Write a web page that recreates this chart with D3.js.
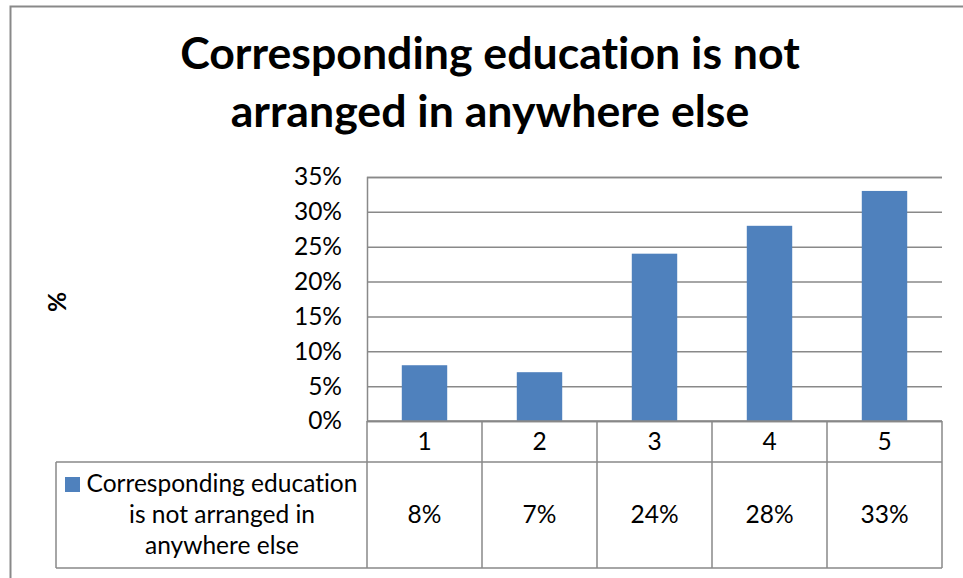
<!DOCTYPE html>
<html>
<head>
<meta charset="utf-8">
<script src="https://cdn.jsdelivr.net/npm/d3@7/dist/d3.min.js"></script>
<style>
  html, body { margin: 0; padding: 0; background: #fff; }
  svg { display: block; }
  svg text { font-variant-ligatures: none; font-feature-settings: "liga" 0; }
</style>
</head>
<body>
<svg id="chart" width="963" height="578"></svg>
<script>
// Chart data
const titleLines = ["Corresponding education is not", "arranged in anywhere else"];
const categories = ["1", "2", "3", "4", "5"];
const values = [0.08, 0.07, 0.24, 0.28, 0.33];
const seriesLabelLines = ["Corresponding education", "is not arranged in", "anywhere else"];
const yTicks = [0, 0.05, 0.10, 0.15, 0.20, 0.25, 0.30, 0.35];
const yAxisLabel = "%";

const W = 963, H = 578;
const FONT = "Lato, 'Open Sans', 'Liberation Sans', sans-serif";
const barColor = "#4F81BD";
const lineColor = "#898989";

const svg = d3.select("#chart");

// Plot area and data table geometry
const plot = { left: 367, right: 942, top: 177, bottom: 421 };
const tableRow1Bottom = 462;
const tableBottom = 568;
const tableLeft = 56;

const x = d3.scaleBand().domain(categories).range([plot.left, plot.right]).paddingInner(0.605).paddingOuter(0.3025);
const xCell = d3.scaleBand().domain(categories).range([plot.left, plot.right]);
const y = d3.scaleLinear().domain([0, 0.35]).range([plot.bottom, plot.top]);
const pct = d3.format(".0%");

// Outer chart border (top and left visible)
svg.append("path")
  .attr("d", `M10.5,${H} L10.5,6.5 L${W},6.5`)
  .attr("fill", "none").attr("stroke", lineColor).attr("stroke-width", 2);

// Fit a text's font size so that it spans a given width
function fitSize(text, weight, target) {
  const t = svg.append("text").attr("font-family", FONT).attr("font-weight", weight)
    .attr("font-size", 100).text(text);
  const w = t.node().getComputedTextLength();
  t.remove();
  return 100 * target / w;
}

// Title
const titleSize = fitSize(titleLines[0], "bold", 620);
svg.append("g").selectAll("text").data(titleLines).join("text")
  .attr("x", 490)
  .attr("y", (d, i) => 69 + i * 58)
  .attr("text-anchor", "middle")
  .attr("font-family", FONT).attr("font-weight", "bold")
  .attr("font-size", titleSize)
  .attr("fill", "#000")
  .text(d => d);

const bodySize = fitSize(seriesLabelLines[0], "normal", 271);

// Gridlines via the y axis
const yAxis = d3.axisLeft(y).tickValues(yTicks).tickFormat(pct)
  .tickSize(-(plot.right - plot.left)).tickPadding(25);
const gy = svg.append("g").attr("transform", `translate(${plot.left},0)`).call(yAxis);
gy.select(".domain").attr("stroke", lineColor).attr("stroke-width", 1.5);
gy.selectAll(".tick line").attr("stroke", lineColor).attr("stroke-width", 1.5);
gy.selectAll(".tick text")
  .attr("font-family", FONT).attr("font-size", bodySize).attr("fill", "#000");

// Bars
svg.append("g").selectAll("rect").data(values).join("rect")
  .attr("x", (d, i) => x(categories[i]))
  .attr("y", d => y(d))
  .attr("width", x.bandwidth())
  .attr("height", d => y(0) - y(d))
  .attr("fill", barColor);

// Y axis title
svg.append("text")
  .attr("transform", "translate(66,302) rotate(-90)")
  .attr("text-anchor", "middle")
  .attr("font-family", FONT).attr("font-weight", "bold")
  .attr("font-size", bodySize)
  .text(yAxisLabel);

// Data table
const tbl = svg.append("g").attr("fill", "none").attr("stroke", lineColor).attr("stroke-width", 1.5);
tbl.append("line").attr("x1", plot.left).attr("x2", plot.right).attr("y1", plot.bottom).attr("y2", plot.bottom);
tbl.append("line").attr("x1", tableLeft).attr("x2", plot.right).attr("y1", tableRow1Bottom).attr("y2", tableRow1Bottom);
tbl.append("line").attr("x1", tableLeft).attr("x2", plot.right).attr("y1", tableBottom).attr("y2", tableBottom);
tbl.append("line").attr("x1", tableLeft).attr("x2", tableLeft).attr("y1", tableRow1Bottom).attr("y2", tableBottom);
const bounds = categories.map(c => xCell(c)).concat([plot.right]);
tbl.selectAll("line.v").data(bounds).join("line").attr("class", "v")
  .attr("x1", d => d).attr("x2", d => d)
  .attr("y1", plot.bottom).attr("y2", tableBottom);

// Category labels
svg.append("g").selectAll("text").data(categories).join("text")
  .attr("x", d => xCell(d) + xCell.bandwidth() / 2)
  .attr("y", 450)
  .attr("text-anchor", "middle")
  .attr("font-family", FONT).attr("font-size", bodySize)
  .text(d => d);

// Value cells
svg.append("g").selectAll("text").data(values).join("text")
  .attr("x", (d, i) => xCell(categories[i]) + xCell.bandwidth() / 2)
  .attr("y", 523)
  .attr("text-anchor", "middle")
  .attr("font-family", FONT).attr("font-size", bodySize)
  .text(d => pct(d));

// Series label with legend key
svg.append("rect").attr("x", 65).attr("y", 477).attr("width", 15).attr("height", 15).attr("fill", barColor);
svg.append("g").selectAll("text").data(seriesLabelLines).join("text")
  .attr("x", 222)
  .attr("y", (d, i) => 492 + i * 31)
  .attr("text-anchor", "middle")
  .attr("font-family", FONT).attr("font-size", bodySize)
  .text(d => d);
</script>
</body>
</html>
